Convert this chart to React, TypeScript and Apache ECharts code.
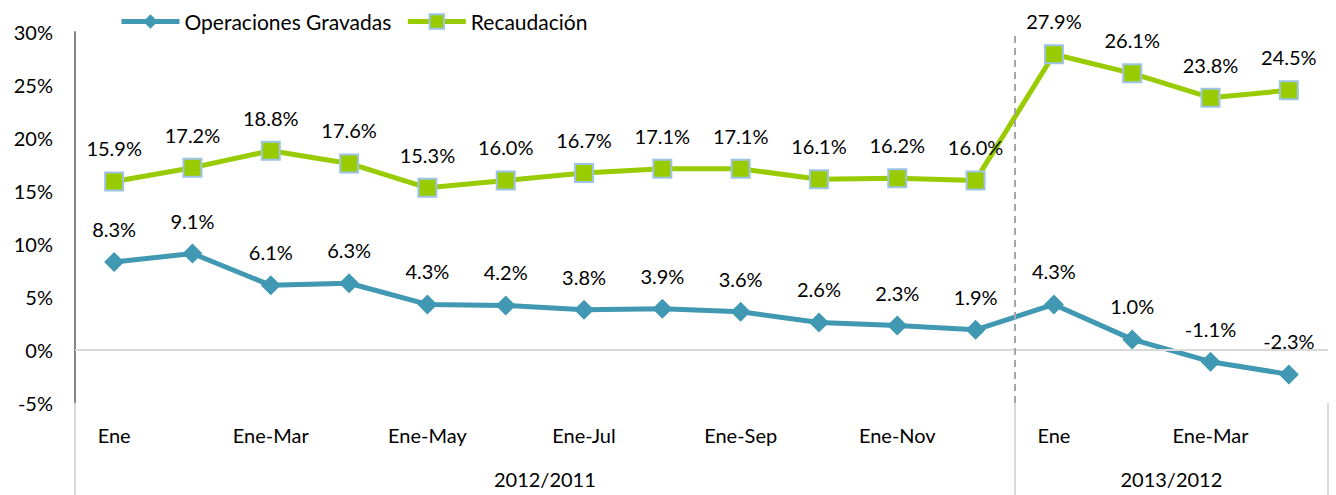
import React, { useEffect, useRef } from "react";
import * as echarts from "echarts";

const categories = [
  "Ene", "Ene-Feb", "Ene-Mar", "Ene-Abr", "Ene-May", "Ene-Jun", "Ene-Jul", "Ene-Ago",
  "Ene-Sep", "Ene-Oct", "Ene-Nov", "Ene-Dic", "Ene", "Ene-Feb", "Ene-Mar", "Ene-Abr",
];
const operaciones = [8.3, 9.1, 6.1, 6.3, 4.3, 4.2, 3.8, 3.9, 3.6, 2.6, 2.3, 1.9, 4.3, 1.0, -1.1, -2.3];
const recaudacion = [15.9, 17.2, 18.8, 17.6, 15.3, 16.0, 16.7, 17.1, 17.1, 16.1, 16.2, 16.0, 27.9, 26.1, 23.8, 24.5];
const groupNames = ["2012/2011", "2013/2012"];
const groupBounds = [0, 12, 16];

const FONT = "Lato";
const FS = 20;

export default function App() {
  const ref = useRef<HTMLDivElement>(null);
  useEffect(() => {
    if (!ref.current) return;
    const chart = echarts.init(ref.current, undefined, { renderer: "svg" });
    const groupCenters = groupNames.map((_, i) => (groupBounds[i] + groupBounds[i + 1]) / 2);
    const labelFmt = (p: any) => p.value.toFixed(1) + "%";
    chart.setOption({
      animation: false,
      textStyle: { fontFamily: FONT },
      legend: {
        top: 6,
        left: 114,
        itemWidth: 58,
        itemHeight: 18,
        itemGap: 14,
        lineStyle: { width: 5 },
        textStyle: { fontSize: 21, color: "#000", fontFamily: FONT },
        data: ["Operaciones Gravadas", "Recaudación"],
      },
      grid: { left: 75, right: 8, top: 32, bottom: 92, containLabel: false },
      xAxis: [
        {
          type: "category",
          data: categories,
          boundaryGap: true,
          position: "bottom",
          axisLine: { show: false },
          axisTick: { show: false },
          axisLabel: { interval: 1, margin: 22, fontSize: FS, color: "#000", fontFamily: FONT },
        },
        {
          type: "value",
          min: groupBounds[0],
          max: groupBounds[groupBounds.length - 1],
          position: "bottom",
          axisLine: { show: false },
          splitLine: { show: false },
          axisTick: {
            show: true,
            customValues: groupBounds,
            length: 92,
            lineStyle: { color: "#D9D9D9", width: 2 },
          },
          axisLabel: {
            show: true,
            customValues: groupCenters,
            formatter: (v: number) => groupNames[groupCenters.indexOf(v)] ?? "",
            margin: 66,
            fontSize: FS,
            color: "#000",
            fontFamily: FONT,
          },
        },
      ],
      yAxis: {
        type: "value",
        min: -5,
        max: 30,
        interval: 5,
        axisLine: { show: true, lineStyle: { color: "#868686", width: 2 } },
        axisTick: { show: false },
        splitLine: { show: false },
        axisLabel: { formatter: "{value}%", fontSize: FS, color: "#000", margin: 22, fontFamily: FONT },
      },
      series: [
        {
          name: "Operaciones Gravadas",
          type: "line",
          data: operaciones,
          symbol: "diamond",
          symbolSize: 20,
          z: 3,
          lineStyle: { color: "#4098B2", width: 5 },
          itemStyle: { color: "#4098B2" },
          label: { show: true, position: "top", distance: 13, formatter: labelFmt, fontSize: FS, color: "#000", fontFamily: FONT },
          markLine: {
            silent: true,
            symbol: "none",
            label: { show: false },
            lineStyle: { color: "#D9D9D9", width: 2, type: "solid" },
            data: [{ yAxis: 0 }],
          },
        },
        {
          name: "Recaudación",
          type: "line",
          data: recaudacion,
          symbol: "rect",
          symbolSize: 18,
          z: 3,
          lineStyle: { color: "#99CC00", width: 5 },
          itemStyle: { color: "#99CC00", borderColor: "#9DC3E6", borderWidth: 2 },
          label: { show: true, position: "top", distance: 13, formatter: labelFmt, fontSize: FS, color: "#000", fontFamily: FONT },
        },
        {
          name: "sep",
          type: "line",
          xAxisIndex: 1,
          data: [],
          markLine: {
            silent: true,
            symbol: "none",
            label: { show: false },
            lineStyle: { color: "#A6A6A6", width: 2, type: [7, 5] },
            data: [{ xAxis: groupBounds[1] }],
          },
        },
      ],
    });
    return () => chart.dispose();
  }, []);
  return (
    <div
      ref={ref}
      style={{ position: "absolute", left: 0, top: 0, width: 1336, height: 495, background: "#fff" }}
    />
  );
}
